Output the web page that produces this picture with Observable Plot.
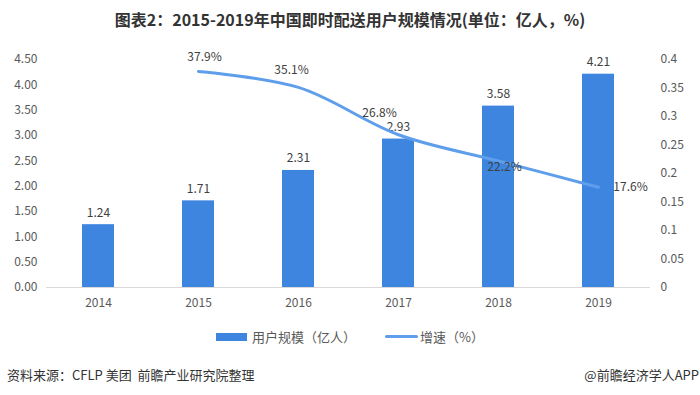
<!DOCTYPE html>
<html><head><meta charset="utf-8">
<script src="https://cdn.jsdelivr.net/npm/d3@7"></script>
<script src="https://cdn.jsdelivr.net/npm/@observablehq/plot@0.6"></script>
<style>
body{margin:0;background:#fff;font-family:"Noto Sans CJK SC","Noto Sans",sans-serif;}
#wrap{width:700px;height:395px;position:relative;overflow:hidden;}
#title{position:absolute;top:7px;left:0;width:700px;text-align:center;font-size:16px;font-weight:bold;color:#333;}
#chart{position:absolute;top:38px;left:0;}
#legend{position:absolute;top:327px;left:0;width:700px;font-size:13px;color:#595959;}
.foot{position:absolute;top:365px;font-size:13px;color:#333;white-space:pre;}
</style></head><body>
<div id="wrap">
<div id="title">图表2：2015-2019年中国即时配送用户规模情况(单位：亿人，%)</div>
<div id="chart"></div>
<div id="legend">
  <span style="position:absolute;left:216px;top:6px;width:31px;height:8px;background:#3e85e0"></span>
  <span style="position:absolute;left:252px;top:0px;">用户规模（亿人）</span>
  <span style="position:absolute;left:385px;top:8px;width:33px;height:3px;background:#5e9eea;border-radius:2px"></span>
  <span style="position:absolute;left:420px;top:0px;">增速（%）</span>
</div>
<div class="foot" style="left:7px">资料来源：CFLP 美团  前瞻产业研究院整理</div>
<div class="foot" style="right:1px">@前瞻经济学人APP</div>
</div>
<script>
const years = ["2014","2015","2016","2017","2018","2019"];
const users = [1.24, 1.71, 2.31, 2.93, 3.58, 4.21];
const growthYears = ["2015","2016","2017","2018","2019"];
const growth = [0.379, 0.351, 0.268, 0.222, 0.176];
const leftTicks = [0,0.5,1,1.5,2,2.5,3,3.5,4,4.5];
const rightTicks = [0,0.05,0.1,0.15,0.2,0.25,0.3,0.35,0.4];

const k = 4.5 / 0.4;
const barData = years.map((y,i)=>({year:y, v:users[i]}));
const lineData = growthYears.map((y,i)=>({year:y, g:growth[i], gy:growth[i]*k}));
const font = "Noto Sans CJK SC";
const lineLabelOpts = [
  {dx:6, dy:-14}, {dx:-7, dy:-17}, {dx:-19, dy:-22}, {dx:6, dy:6}, {dx:32, dy:0}
];

const chart = Plot.plot({
  width: 700, height: 282,
  marginLeft: 46, marginRight: 50, marginTop: 21, marginBottom: 33,
  style: {fontFamily: font, fontSize: "12px", color: "#595959", background: "transparent"},
  x: {domain: years, paddingInner: 0.68, paddingOuter: 0.34, label: null},
  y: {domain: [0, 4.5], label: null},
  marks: [
    Plot.axisX({tickSize: 0, tickPadding: 11, fontSize: 12, fill: "#595959"}),
    Plot.axisY(leftTicks, {anchor: "left", tickSize: 0, tickPadding: 9, tickFormat: d => d.toFixed(2), fill: "#595959", label: null}),
    Plot.axisY(rightTicks.map(t => t*k), {anchor: "right", tickSize: 0, tickPadding: 10, tickFormat: d => String(Math.round(d/k*100)/100), fill: "#595959", label: null}),
    Plot.ruleY([0], {stroke: "#d9d9d9"}),
    Plot.barY(barData, {x: "year", y: "v", fill: "#3e85e0"}),
    Plot.text(barData, {x: "year", y: "v", text: d => d.v.toFixed(2), dy: -12, fill: "#404040", fontSize: 12}),
    Plot.line(lineData, {x: "year", y: "gy", stroke: "#5e9eea", strokeWidth: 3, curve: "catmull-rom"}),
    ...lineData.map((d,i) => Plot.text([d], {x: "year", y: "gy", text: d => (d.g*100).toFixed(1) + "%", dx: lineLabelOpts[i].dx, dy: lineLabelOpts[i].dy, fill: "#404040", fontSize: 12}))
  ]
});
document.getElementById("chart").appendChild(chart);
</script>
</body></html>
